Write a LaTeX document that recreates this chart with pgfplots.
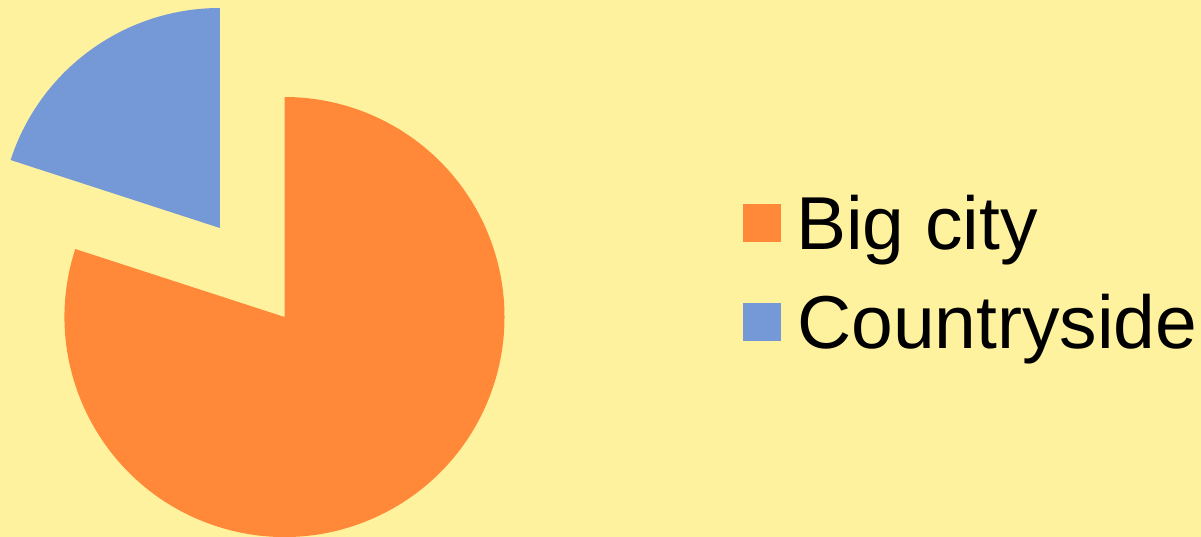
\documentclass[border=0pt]{standalone}
\usepackage{pgfplots}
\usepackage{pgfplotstable}
\pgfplotsset{compat=1.18}
\usepackage{fontspec}
\setmainfont{Liberation Sans}
\definecolor{bg}{RGB}{255,242,158}
\definecolor{cityc}{RGB}{255,137,56}
\definecolor{countryc}{RGB}{117,153,214}
\pgfplotstableread{
label value
Big-city 80
Countryside 20
}\piedata
\begin{document}
\begin{tikzpicture}
\pgfplotstablegetelem{0}{value}\of\piedata \let\vcity\pgfplotsretval
\pgfplotstablegetelem{1}{value}\of\piedata \let\vcountry\pgfplotsretval
\pgfmathsetmacro{\total}{\vcity+\vcountry}
\pgfmathsetmacro{\acountry}{360*\vcountry/\total}
\pgfmathsetmacro{\aend}{90+\acountry}
\pgfmathsetmacro{\amid}{90+\acountry/2}
\pgfmathsetmacro{\afull}{450}
\begin{axis}[
  scale only axis, width=1201pt, height=537pt,
  xmin=0, xmax=1201, ymin=0, ymax=537,
  hide axis, clip=false,
]
\fill[bg] (axis cs:0,0) rectangle (axis cs:1201,537);
% Big city sector
\fill[cityc, overlay] (axis cs:284.5,220) -- ++(\aend:220) arc[start angle=\aend, end angle=\afull, radius=220] -- cycle;
% Countryside sector (exploded)
\fill[countryc, overlay] (axis cs:284.5,220) ++(\amid:110) -- ++(90:220) arc[start angle=90, end angle=\aend, radius=220] -- cycle;
% legend
\fill[cityc] (axis cs:743,295) rectangle (axis cs:781,333);
\fill[countryc] (axis cs:743,196) rectangle (axis cs:781,234);
\node[anchor=base west, inner sep=0pt, font=\fontsize{75}{90}\selectfont] at (axis cs:796,287) {Big city};
\node[anchor=base west, inner sep=0pt, font=\fontsize{75}{90}\selectfont] at (axis cs:797,188) {Countryside};
\end{axis}
\end{tikzpicture}
\end{document}
